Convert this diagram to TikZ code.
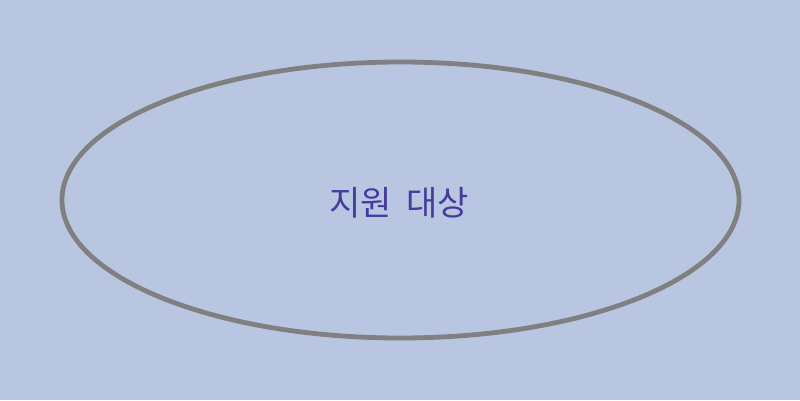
\documentclass[tikz,border=0pt]{standalone}
\usepackage{fontspec}
\newfontfamily\kr{Noto Sans CJK KR}
\definecolor{bg}{HTML}{B8C6E2}
\definecolor{edge}{HTML}{808080}
\definecolor{txt}{HTML}{463A9C}
\begin{document}
\begin{tikzpicture}[x=1pt,y=-1pt,
  label text/.style={text=txt,font=\kr\fontsize{34}{40}\selectfont,inner sep=0pt}]
\fill[bg] (0,0) rectangle (800,400);
\useasboundingbox (0,0) rectangle (800,400);
\draw[edge,line width=4.8pt] (400.5,200) ellipse [x radius=338.5, y radius=138];
\node[label text] (lbl) at (399,203) {지원\hspace{7pt} 대상};
\end{tikzpicture}
\end{document}
